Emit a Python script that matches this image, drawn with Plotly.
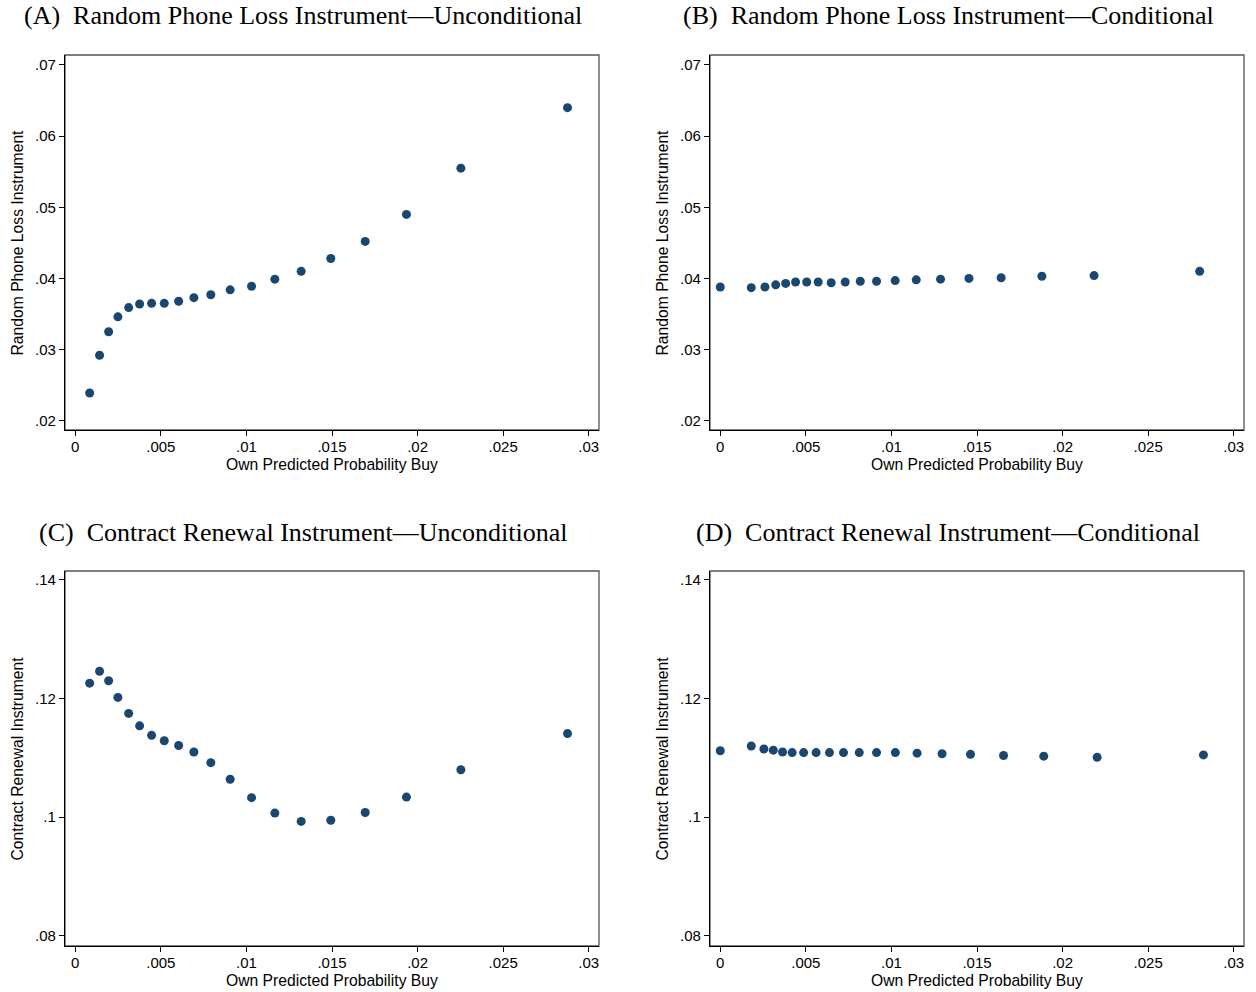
import plotly.graph_objects as go

# Panel A: Random Phone Loss Instrument — Unconditional
xA = [0.00084, 0.00142, 0.00195, 0.00249, 0.00312, 0.00376, 0.00446, 0.0052, 0.00604, 0.00693,
      0.00792, 0.00905, 0.0103, 0.01166, 0.0132, 0.01493, 0.01694, 0.01935, 0.02253, 0.02876]
yA = [0.0239, 0.0292, 0.0325, 0.0346, 0.0359, 0.0364, 0.0365, 0.0365, 0.0368, 0.0373,
      0.0377, 0.0384, 0.0389, 0.0399, 0.0410, 0.0428, 0.0452, 0.0490, 0.0555, 0.0640]

# Panel B: Random Phone Loss Instrument — Conditional
xB = [0.0, 0.00181, 0.00261, 0.00324, 0.00382, 0.0044, 0.00505, 0.00572, 0.00648, 0.0073,
      0.00818, 0.00913, 0.01022, 0.01145, 0.01287, 0.01453, 0.01641, 0.01879, 0.02184, 0.02801]
yB = [0.0388, 0.0387, 0.0388, 0.0391, 0.0393, 0.0395, 0.0395, 0.0395, 0.0394, 0.0395,
      0.0396, 0.0396, 0.0397, 0.0398, 0.0399, 0.0400, 0.0401, 0.0403, 0.0404, 0.0410]

# Panel C: Contract Renewal Instrument — Unconditional
xC = xA
yC = [0.1226, 0.1246, 0.1230, 0.1202, 0.1175, 0.1154, 0.1138, 0.1129, 0.1121, 0.1110,
      0.1092, 0.1064, 0.1033, 0.1007, 0.0993, 0.0995, 0.1008, 0.1034, 0.1080, 0.1141]

# Panel D: Contract Renewal Instrument — Conditional
xD = [0.0, 0.00181, 0.00255, 0.0031, 0.00364, 0.0042, 0.00487, 0.0056, 0.00638, 0.0072,
      0.00812, 0.00913, 0.01023, 0.0115, 0.01296, 0.01462, 0.01655, 0.0189, 0.02202, 0.02823]
yD = [0.1112, 0.1120, 0.1115, 0.1113, 0.1110, 0.1109, 0.1109, 0.1109, 0.1109, 0.1109,
      0.1109, 0.1109, 0.1109, 0.1108, 0.1107, 0.1106, 0.1104, 0.1103, 0.1101, 0.1105]

titles = ["(A)\u00a0 Random Phone Loss Instrument\u2014Unconditional",
          "(B)\u00a0 Random Phone Loss Instrument\u2014Conditional",
          "(C)\u00a0 Contract Renewal Instrument\u2014Unconditional",
          "(D)\u00a0 Contract Renewal Instrument\u2014Conditional"]
ytitles = ["Random Phone Loss Instrument", "Random Phone Loss Instrument",
           "Contract Renewal Instrument", "Contract Renewal Instrument"]
xtitle = "Own Predicted Probability Buy"

xticks = [0, 0.005, 0.01, 0.015, 0.02, 0.025, 0.03]
xticklabels = ["0", ".005", ".01", ".015", ".02", ".025", ".03"]
yticks_top = [0.02, 0.03, 0.04, 0.05, 0.06, 0.07]
yticklabels_top = [".02", ".03", ".04", ".05", ".06", ".07"]
yticks_bot = [0.08, 0.10, 0.12, 0.14]
yticklabels_bot = [".08", ".1", ".12", ".14"]

W, H = 1256, 992
NAVY = "#1a476f"
SANS = "Liberation Sans, Arial, sans-serif"
SERIF = "Liberation Serif, serif"


def px(x):
    return x / W


def py(y):
    return 1 - y / H


# page-pixel boxes (left, right, top, bottom)
boxes = [(65, 599, 55, 430), (710, 1244, 55, 430), (65, 599, 571, 946), (710, 1244, 571, 946)]
title_cx = [303, 948, 303, 948]
title_cy = [16, 16, 532, 532]

fig = go.Figure()
data = [(xA, yA), (xB, yB), (xC, yC), (xD, yD)]
layout = dict(width=W, height=H, margin=dict(l=0, r=0, t=0, b=0),
              paper_bgcolor="white", plot_bgcolor="white", showlegend=False)
annotations = []
shapes = []
for i, ((xs, ys), (l, r, t, b)) in enumerate(zip(data, boxes)):
    k = "" if i == 0 else str(i + 1)
    top = i < 2
    fig.add_trace(go.Scatter(x=xs, y=ys, mode="markers", xaxis="x" + k, yaxis="y" + k,
                             marker=dict(color=NAVY, size=9, line=dict(width=0)),
                             cliponaxis=False))
    yr = [0.0187, 0.0714] if top else [0.0783, 0.1415]
    layout["xaxis" + k] = dict(domain=[px(l), px(r)], anchor="y" + k, range=[-0.0006, 0.0306],
                               tickvals=xticks, ticktext=xticklabels, ticks="outside", ticklen=5,
                               tickcolor="black", showline=True, linecolor="black", linewidth=1.3,
                               showgrid=False, zeroline=False, ticklabelstandoff=-2,
                               tickfont=dict(family=SANS, size=15, color="black"))
    layout["yaxis" + k] = dict(domain=[py(b), py(t)], anchor="x" + k, range=yr,
                               tickvals=yticks_top if top else yticks_bot,
                               ticktext=yticklabels_top if top else yticklabels_bot,
                               ticks="outside", ticklen=5, tickcolor="black",
                               showline=True, linecolor="black", linewidth=1.3,
                               showgrid=False, zeroline=False,
                               tickfont=dict(family=SANS, size=15, color="black"))
    shapes.append(dict(type="rect", xref="paper", yref="paper", x0=px(l), x1=px(r),
                       y0=py(b), y1=py(t), line=dict(color="#555555", width=1.3),
                       layer="below"))
    annotations.append(dict(text=titles[i], xref="paper", yref="paper", x=px(title_cx[i]),
                            y=py(title_cy[i]), xanchor="center", yanchor="middle", showarrow=False,
                            font=dict(family=SERIF, size=26, color="black")))
    annotations.append(dict(text=xtitle, xref="paper", yref="paper", x=px((l + r) / 2),
                            y=py(b + 34), xanchor="center", yanchor="middle", showarrow=False,
                            font=dict(family=SANS, size=15.7, color="black")))
    annotations.append(dict(text=ytitles[i], xref="paper", yref="paper", x=px(l - 48),
                            y=py((t + b) / 2), xanchor="center", yanchor="middle",
                            textangle=-90, showarrow=False,
                            font=dict(family=SANS, size=15.7, color="black")))

layout["annotations"] = annotations
layout["shapes"] = shapes
fig.update_layout(**layout)
fig.write_html("out.html", config={"displayModeBar": False},
               post_script="document.body.style.margin='0px';document.body.style.overflow='hidden';")
